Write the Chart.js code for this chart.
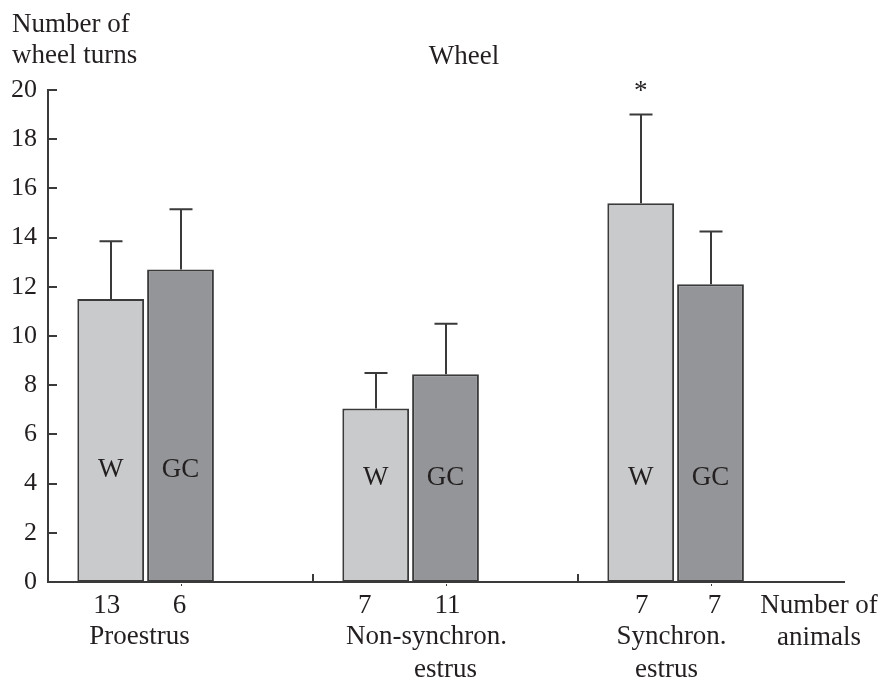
<!DOCTYPE html>
<html><head><meta charset="utf-8">
<script src="https://cdn.jsdelivr.net/npm/chart.js@4"></script>
<style>html,body{margin:0;padding:0;background:#fff}#wrap{width:883px;height:677px;position:relative}</style>
</head><body><div id="wrap"><canvas id="c"></canvas></div>
<script>
// ---- data ----
const categories = ['Proestrus', 'Non-synchron. estrus', 'Synchron. estrus'];
const categoryLines = [['Proestrus'], ['Non-synchron.', 'estrus'], ['Synchron.', 'estrus']];
const seriesNames = ['W', 'GC'];
const turnsW = [11.5, 7.05, 15.4];
const turnsGC = [12.7, 8.45, 12.1];
const errW = [2.35, 1.45, 3.6];
const errGC = [2.45, 2.05, 2.15];
const animalsW = [13, 7, 7];
const animalsGC = [6, 11, 7];
const significantW = [false, false, true];

// ---- styling / layout ----
const FAMILY = '"Liberation Serif", "Times New Roman", serif';
const FONT = '27px ' + FAMILY;
const INK = '#231f20';
const LINE = '#3a3a3a';
const inBarLabelY = [4.65, 4.3, 4.3];               // value height of the W / GC labels
const catLineShift = [[-41], [-19, 0], [-39, -44]];  // px offsets of category name lines from category centre
const countShift = [[-4, -11, 1], [-1, 2, 4]];       // px offsets of animal counts from bar centre

const annot = {
  id: 'annot',
  afterDatasetsDraw(chart) {
    const ctx = chart.ctx, xs = chart.scales.x, ys = chart.scales.y, a = chart.chartArea;
    ctx.save();
    ctx.strokeStyle = LINE;
    ctx.lineWidth = 2;
    // extend x axis line slightly to the right
    ctx.beginPath(); ctx.moveTo(a.right - 1, a.bottom); ctx.lineTo(a.right + 2, a.bottom); ctx.stroke();
    // inward y ticks
    ys.ticks.forEach(t => {
      const py = Math.round(ys.getPixelForValue(t.value));
      ctx.beginPath(); ctx.moveTo(a.left, py); ctx.lineTo(a.left + 9, py); ctx.stroke();
    });
    // category boundary ticks (pointing up)
    for (let i = 0; i < categories.length - 1; i++) {
      const bx = Math.round((xs.getPixelForValue(i) + xs.getPixelForValue(i + 1)) / 2);
      ctx.beginPath(); ctx.moveTo(bx, a.bottom); ctx.lineTo(bx, a.bottom - 8); ctx.stroke();
    }
    // small centre marks below axis
    ctx.lineWidth = 1;
    for (let i = 0; i < categories.length; i++) {
      const cx = Math.round(xs.getPixelForValue(i)) + 0.5;
      ctx.beginPath(); ctx.moveTo(cx, a.bottom + 2); ctx.lineTo(cx, a.bottom + 4); ctx.stroke();
    }
    // error bars
    const errs = [errW, errGC];
    ctx.lineWidth = 2;
    [0, 1].forEach(d => {
      chart.getDatasetMeta(d).data.forEach((bar, i) => {
        const v = chart.data.datasets[d].data[i];
        const top = ys.getPixelForValue(v + errs[d][i]);
        const bx = Math.round(bar.x);
        ctx.beginPath();
        ctx.moveTo(bx, bar.y); ctx.lineTo(bx, top);
        ctx.moveTo(bx - 11.5, top); ctx.lineTo(bx + 11.5, top);
        ctx.stroke();
      });
    });
    // texts
    ctx.fillStyle = INK;
    ctx.font = FONT;
    ctx.textAlign = 'center';
    ctx.textBaseline = 'alphabetic';
    const counts = [animalsW, animalsGC];
    [0, 1].forEach(d => {
      chart.getDatasetMeta(d).data.forEach((bar, i) => {
        ctx.fillText(seriesNames[d], bar.x, ys.getPixelForValue(inBarLabelY[i]) + 9);
        ctx.fillText(String(counts[d][i]), bar.x + countShift[d][i], a.bottom + 31);
        if (d === 0 && significantW[i]) {
          ctx.fillText('*', bar.x, 99);
        }
      });
    });
    categoryLines.forEach((lines, i) => {
      const cx = xs.getPixelForValue(i);
      lines.forEach((ln, k) => ctx.fillText(ln, cx + catLineShift[i][k], a.bottom + 62 + k * 33));
    });
    ctx.fillText('Number of', 819, a.bottom + 31);
    ctx.fillText('animals', 819, a.bottom + 63);
    ctx.fillText('Wheel', 464, 64);
    ctx.textAlign = 'left';
    ctx.fillText('Number of', 12, 32);
    ctx.fillText('wheel turns', 12, 63);
    ctx.restore();
  }
};

new Chart(document.getElementById('c'), {
  type: 'bar',
  data: {
    labels: categories,
    datasets: [
      { label: seriesNames[0], data: turnsW, backgroundColor: '#c9cacc', borderColor: LINE, borderWidth: 2, borderSkipped: false },
      { label: seriesNames[1], data: turnsGC, backgroundColor: '#939598', borderColor: LINE, borderWidth: 2, borderSkipped: false },
      // empty third slot: in the original the W/GC pair sits left of each category centre
      { label: '', data: categories.map(() => null) }
    ]
  },
  options: {
    responsive: true,
    maintainAspectRatio: false,
    animation: false,
    categoryPercentage: 0.79,
    barPercentage: 0.957,
    layout: { padding: { left: 0, top: 90, right: 40, bottom: 95 } },
    plugins: { legend: { display: false }, tooltip: { enabled: false } },
    scales: {
      x: {
        type: 'category',
        grid: { display: false, drawTicks: false },
        ticks: { display: false },
        border: { display: true, color: LINE, width: 2 }
      },
      y: {
        min: 0, max: 20,
        ticks: { stepSize: 2, color: INK, font: { family: FAMILY, size: 26 }, padding: 11 },
        grid: { display: false, drawTicks: false },
        border: { display: true, color: LINE, width: 2 },
        afterFit: s => { s.width = 48; }
      }
    }
  },
  plugins: [annot]
});
</script>
</body></html>
